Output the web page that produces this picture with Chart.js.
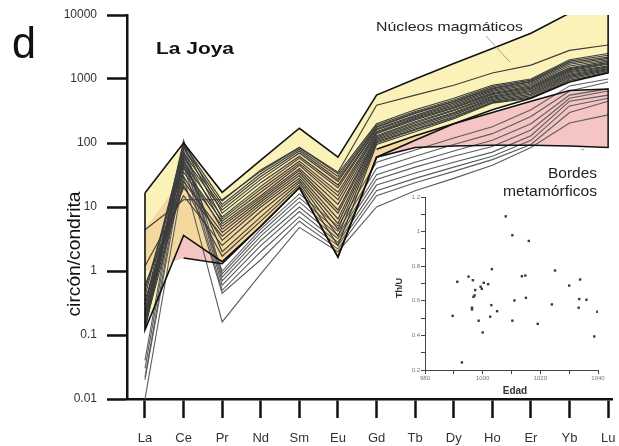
<!DOCTYPE html>
<html>
<head>
<meta charset="utf-8">
<script src="https://cdn.jsdelivr.net/npm/chart.js@4.4.1/dist/chart.umd.min.js"></script>
<style>
  html, body { margin: 0; padding: 0; background: #fff; }
  #wrap { position: relative; width: 619px; height: 446px; }
  #main { position: absolute; left: 0; top: 0; }
  #inset { position: absolute; left: 370px; top: 185px; }
</style>
</head>
<body>
<div id="wrap">
  <canvas id="main" width="619" height="446"></canvas>
  <canvas id="inset" width="240" height="215"></canvas>
</div>
<script>
// REE elements (x axis categories)
const elements = ['La', 'Ce', 'Pr', 'Nd', 'Sm', 'Eu', 'Gd', 'Tb', 'Dy', 'Ho', 'Er', 'Yb', 'Lu'];
const yTickValues = [0.01, 0.1, 1, 10, 100, 1000, 10000];

// Envelopes (zircon / chondrite)
const nucleosUpper = [16.6, 100, 17, 54, 170, 60, 560, 1000, 1750, 3000, 5200, 10700, 13100];
const nucleosLower = [0.12, 3.6, 1.4, 5, 20, 1.65, 60, 110, 200, 330, 500, 900, 1250];
const bordesUpper  = [4.4, 30, 5, 22, 70, 34, 80, 130, 200, 300, 450, 660, 700];
const bordesLower  = [1.0, 1.6, 1.3, 5, 20, 1.65, 60, 85, 90, 92, 92, 90, 85];

// Individual analyses: magmatic cores
const nucleosLines = [
  [4.4, 13, 13, 36, 85, 35, 390, 560, 800, 1240, 1650, 2800, 3400],
  [0.3, 95, 12.5, 38, 85, 33, 200, 330, 500, 800, 1000, 2000, 2500],
  [0.15, 85, 11, 33, 80, 30, 190, 310, 470, 760, 960, 1900, 2350],
  [0.2, 70, 10, 30, 75, 27, 180, 300, 450, 720, 920, 1800, 2200],
  [0.5, 60, 9, 27, 70, 25, 175, 290, 440, 700, 900, 1700, 2100],
  [0.13, 105, 8, 24, 62, 22, 165, 270, 420, 670, 860, 1600, 2000],
  [0.25, 50, 7, 21, 58, 20, 160, 260, 400, 640, 820, 1500, 1900],
  [0.4, 90, 6.5, 19, 52, 17, 150, 250, 380, 610, 780, 1450, 1800],
  [0.18, 40, 6, 17, 48, 15, 145, 240, 360, 590, 750, 1400, 1750],
  [0.12, 65, 5.5, 15, 45, 13, 140, 230, 350, 570, 720, 1350, 1700],
  [0.22, 35, 5, 14, 40, 11, 130, 215, 330, 540, 690, 1300, 1600],
  [0.3, 45, 4.5, 13, 37, 9, 125, 205, 320, 520, 660, 1250, 1550],
  [0.14, 25, 4, 12, 34, 8, 120, 195, 300, 500, 640, 1200, 1500],
  [0.6, 20, 3.5, 11, 31, 6.5, 115, 185, 290, 480, 610, 1150, 1450],
  [0.16, 30, 3, 10, 28, 5.5, 110, 175, 275, 460, 580, 1100, 1400],
  [1.2, 15, 2.5, 8.5, 26, 4.5, 105, 165, 260, 440, 550, 1050, 1350],
  [0.2, 55, 2, 7, 24, 3.5, 100, 160, 250, 430, 520, 1000, 1300],
  [0.35, 22, 1.7, 6, 22, 2.5, 95, 150, 240, 420, 500, 950, 1250]
];

// Individual analyses: metamorphic rims
const bordesLines = [
  [0.01, 30, 0.16, 0.9, 4.8, 2.0, 10, 18, 28, 45, 85, 205, 275],
  [0.02, 45, 0.45, 1.5, 6, 2.2, 15, 24, 36, 55, 95, 300, 450],
  [0.022, 60, 0.5, 2, 7, 2.5, 18, 28, 42, 62, 110, 380, 500],
  [0.03, 80, 0.6, 2.5, 8.5, 2.8, 22, 34, 50, 72, 130, 450, 560],
  [0.04, 95, 0.7, 3, 10, 3.2, 27, 42, 62, 88, 160, 500, 650],
  [0.15, 70, 0.8, 3.5, 12, 3.6, 32, 50, 75, 110, 200, 560, 700],
  [0.2, 110, 0.9, 4, 14, 4.2, 40, 62, 95, 140, 260, 650, 900],
  [0.3, 50, 1.0, 4.5, 16, 5, 50, 78, 120, 180, 330, 780, 1000]
];

// Inset: Th/U versus age (Ma)
const edad = [989.6, 991.2, 992.8, 995.1, 996.6, 997.4, 996.8, 997.2, 996.3, 996.3,
              998.6, 999.3, 999.7, 1000.4, 1000.0, 1001.9, 1003.2, 1003.0, 1002.6, 1005.0,
              1008.0, 1010.3, 1010.3, 1011.0, 1013.6, 1014.8, 1015.0, 1016.0, 1019.1, 1024.0,
              1025.1, 1030.0, 1033.3, 1033.5, 1033.8, 1036.0, 1038.7, 1039.8];
const thU  = [0.513, 0.710, 0.244, 0.740, 0.719, 0.662, 0.623, 0.631, 0.560, 0.550,
              0.485, 0.681, 0.669, 0.704, 0.417, 0.696, 0.783, 0.575, 0.508, 0.540,
              1.088, 0.979, 0.485, 0.602, 0.742, 0.746, 0.617, 0.946, 0.467, 0.579,
              0.775, 0.688, 0.560, 0.610, 0.723, 0.606, 0.394, 0.537];

const YELLOW = '#faf2b8';
const PINK = '#f4c5c2';
const ORANGE = '#f5d89d';
const FONT = '"Liberation Sans", Arial, Helvetica, sans-serif';

const toPoints = arr => arr.map((v, i) => ({ x: i, y: v }));

function envelopeOutline(upper, lower) {
  const pts = toPoints(upper);
  for (let i = lower.length - 1; i >= 0; i--) pts.push({ x: i, y: lower[i] });
  pts.push({ x: 0, y: upper[0] });
  return pts;
}

function bordesOutline() {
  const pts = [];
  for (let i = 6; i < bordesUpper.length; i++) pts.push({ x: i, y: bordesUpper[i] });
  for (let i = bordesLower.length - 1; i >= 1; i--) pts.push({ x: i, y: bordesLower[i] });
  return pts;
}

function envelopePath(ctx, xs, ys, upper, lower) {
  ctx.beginPath();
  upper.forEach((v, i) => {
    const px = xs.getPixelForValue(i), py = ys.getPixelForValue(v);
    if (i === 0) ctx.moveTo(px, py); else ctx.lineTo(px, py);
  });
  for (let i = lower.length - 1; i >= 0; i--) {
    ctx.lineTo(xs.getPixelForValue(i), ys.getPixelForValue(lower[i]));
  }
  ctx.closePath();
}

// Fills the two envelopes; their overlap gets its own tint
const envelopeFill = {
  id: 'envelopeFill',
  beforeDatasetsDraw(chart) {
    const { ctx, chartArea: a, scales: { x, y } } = chart;
    ctx.save();
    ctx.beginPath();
    ctx.rect(a.left, a.top, a.right - a.left, a.bottom - a.top);
    ctx.clip();
    envelopePath(ctx, x, y, nucleosUpper, nucleosLower);
    ctx.fillStyle = YELLOW; ctx.fill();
    envelopePath(ctx, x, y, bordesUpper, bordesLower);
    ctx.fillStyle = PINK; ctx.fill();
    envelopePath(ctx, x, y, nucleosUpper, nucleosLower);
    ctx.clip();
    envelopePath(ctx, x, y, bordesUpper, bordesLower);
    ctx.fillStyle = ORANGE; ctx.fill();
    ctx.restore();
  }
};

// Draws text squeezed or widened to a given width
function fittedText(ctx, text, x, y, font, align, width, color, angle) {
  ctx.save();
  ctx.font = font;
  ctx.fillStyle = color || '#111';
  ctx.textAlign = align;
  ctx.textBaseline = 'alphabetic';
  const sx = width / ctx.measureText(text).width;
  ctx.translate(x, y);
  if (angle) ctx.rotate(angle);
  ctx.scale(sx, 1);
  ctx.fillText(text, 0, 0);
  ctx.restore();
}

// Panel letter, title, axis title and envelope labels
const annotations = {
  id: 'annotations',
  afterDraw(chart) {
    const { ctx, scales: { x, y } } = chart;
    fittedText(ctx, 'd', 12, 58, '44px ' + FONT, 'left', 24, '#111');
    fittedText(ctx, 'La Joya', 156, 54, 'bold 17px ' + FONT, 'left', 78, '#111');
    fittedText(ctx, 'Núcleos magmáticos', 376, 31, '13px ' + FONT, 'left', 147, '#222');
    fittedText(ctx, 'Bordes', 597, 178, '15px ' + FONT, 'right', 49, '#222');
    fittedText(ctx, 'metamórficos', 597, 196, '15px ' + FONT, 'right', 94, '#222');
    fittedText(ctx, 'circón/condrita', 80, 254, '19px ' + FONT, 'center', 125, '#111', -Math.PI / 2);

    // leader lines from the labels into the envelopes
    ctx.save();
    ctx.strokeStyle = '#8a8a8a';
    ctx.lineWidth = 0.8;
    ctx.beginPath();
    ctx.moveTo(486, 36);
    ctx.lineTo(x.getPixelForValue(9.45), y.getPixelForValue(1850));
    ctx.moveTo(584, 150);
    ctx.lineTo(x.getPixelForValue(11.3), y.getPixelForValue(80));
    ctx.stroke();
    ctx.restore();
  }
};

const datasets = [];
datasets.push({
  data: envelopeOutline(nucleosUpper, nucleosLower),
  borderColor: '#111', borderWidth: 1.6
});
datasets.push({
  data: bordesOutline(),
  borderColor: '#111', borderWidth: 1.5
});
nucleosLines.forEach(arr => datasets.push({
  data: toPoints(arr), borderColor: '#3c3c3c', borderWidth: 1.15
}));
bordesLines.forEach(arr => datasets.push({
  data: toPoints(arr), borderColor: '#5c5c5c', borderWidth: 1.1
}));
datasets.forEach(d => { d.pointRadius = 0; d.tension = 0; d.fill = false; });

new Chart(document.getElementById('main'), {
  type: 'line',
  data: { datasets },
  options: {
    responsive: false,
    animation: false,
    events: [],
    layout: { padding: { top: 15, right: 7, left: 0, bottom: 0 } },
    plugins: { legend: { display: false }, tooltip: { enabled: false } },
    scales: {
      x: {
        type: 'linear',
        min: -0.466,
        max: 12.1,
        afterBuildTicks: s => { s.ticks = elements.map((_, i) => ({ value: i })); },
        afterFit: s => { s.height = 47; s.paddingLeft = 0; s.paddingRight = 0; },
        ticks: {
          callback: v => elements[v] ?? '',
          font: { family: FONT, size: 13 },
          color: '#333',
          padding: 13,
          maxRotation: 0,
          autoSkip: false
        },
        grid: { drawOnChartArea: false, drawTicks: true, tickLength: 19, tickWidth: 2.5, tickColor: '#111' },
        border: { display: true, color: '#111', width: 2.5 }
      },
      y: {
        type: 'logarithmic',
        min: 0.01,
        max: 10000,
        afterBuildTicks: s => { s.ticks = yTickValues.map(v => ({ value: v })); },
        afterFit: s => { s.width = 127; s.paddingTop = 0; s.paddingBottom = 0; },
        ticks: {
          callback: v => String(v),
          font: { family: FONT, size: 12 },
          color: '#333',
          padding: 10,
          autoSkip: false
        },
        grid: { drawOnChartArea: false, drawTicks: true, tickLength: 20, tickWidth: 2.5, tickColor: '#111' },
        border: { display: true, color: '#111', width: 2.5 }
      }
    }
  },
  plugins: [envelopeFill, annotations]
});

// Inset axis titles
const insetTitles = {
  id: 'insetTitles',
  afterDraw(chart) {
    const { ctx } = chart;
    ctx.save();
    ctx.fillStyle = '#333';
    ctx.font = 'bold 10px ' + FONT;
    ctx.textAlign = 'center';
    ctx.fillText('Edad', 145, 209);
    ctx.translate(32, 103);
    ctx.rotate(-Math.PI / 2);
    ctx.font = 'bold 9px ' + FONT;
    ctx.fillText('Th/U', 0, 0);
    ctx.restore();
  }
};

new Chart(document.getElementById('inset'), {
  type: 'scatter',
  data: {
    datasets: [{
      data: edad.map((e, i) => ({ x: e, y: thU[i] })),
      pointStyle: 'rect',
      pointRadius: 1.7,
      backgroundColor: '#3a3a3a',
      borderColor: '#3a3a3a',
      borderWidth: 0
    }]
  },
  options: {
    responsive: false,
    animation: false,
    events: [],
    layout: { padding: { top: 12, right: 12, left: 0, bottom: 0 } },
    plugins: { legend: { display: false }, tooltip: { enabled: false } },
    scales: {
      x: {
        type: 'linear', min: 980, max: 1040,
        afterBuildTicks: s => { s.ticks = [980, 990, 1000, 1010, 1020, 1030, 1040].map(v => ({ value: v })); },
        afterFit: s => { s.height = 30; s.paddingLeft = 0; s.paddingRight = 0; },
        ticks: {
          callback: v => (v % 20 === 0 ? String(v) : ''),
          font: { family: FONT, size: 6 },
          color: '#777', padding: 1, maxRotation: 0, autoSkip: false
        },
        grid: { drawOnChartArea: false, drawTicks: true, tickLength: 4, tickWidth: 1, tickColor: '#444' },
        border: { display: true, color: '#444', width: 1 }
      },
      y: {
        type: 'linear', min: 0.2, max: 1.2,
        afterBuildTicks: s => { s.ticks = [0.2, 0.3, 0.4, 0.5, 0.6, 0.7, 0.8, 0.9, 1.0, 1.1, 1.2].map(v => ({ value: v })); },
        afterFit: s => { s.width = 55; s.paddingTop = 0; s.paddingBottom = 0; },
        ticks: {
          callback: v => {
            const k = Math.round(v * 10);
            return k % 2 === 0 ? String(k / 10) : '';
          },
          font: { family: FONT, size: 6 },
          color: '#777', padding: 1, autoSkip: false
        },
        grid: { drawOnChartArea: false, drawTicks: true, tickLength: 4, tickWidth: 1, tickColor: '#444' },
        border: { display: true, color: '#444', width: 1 }
      }
    }
  },
  plugins: [insetTitles]
});
</script>
</body>
</html>
